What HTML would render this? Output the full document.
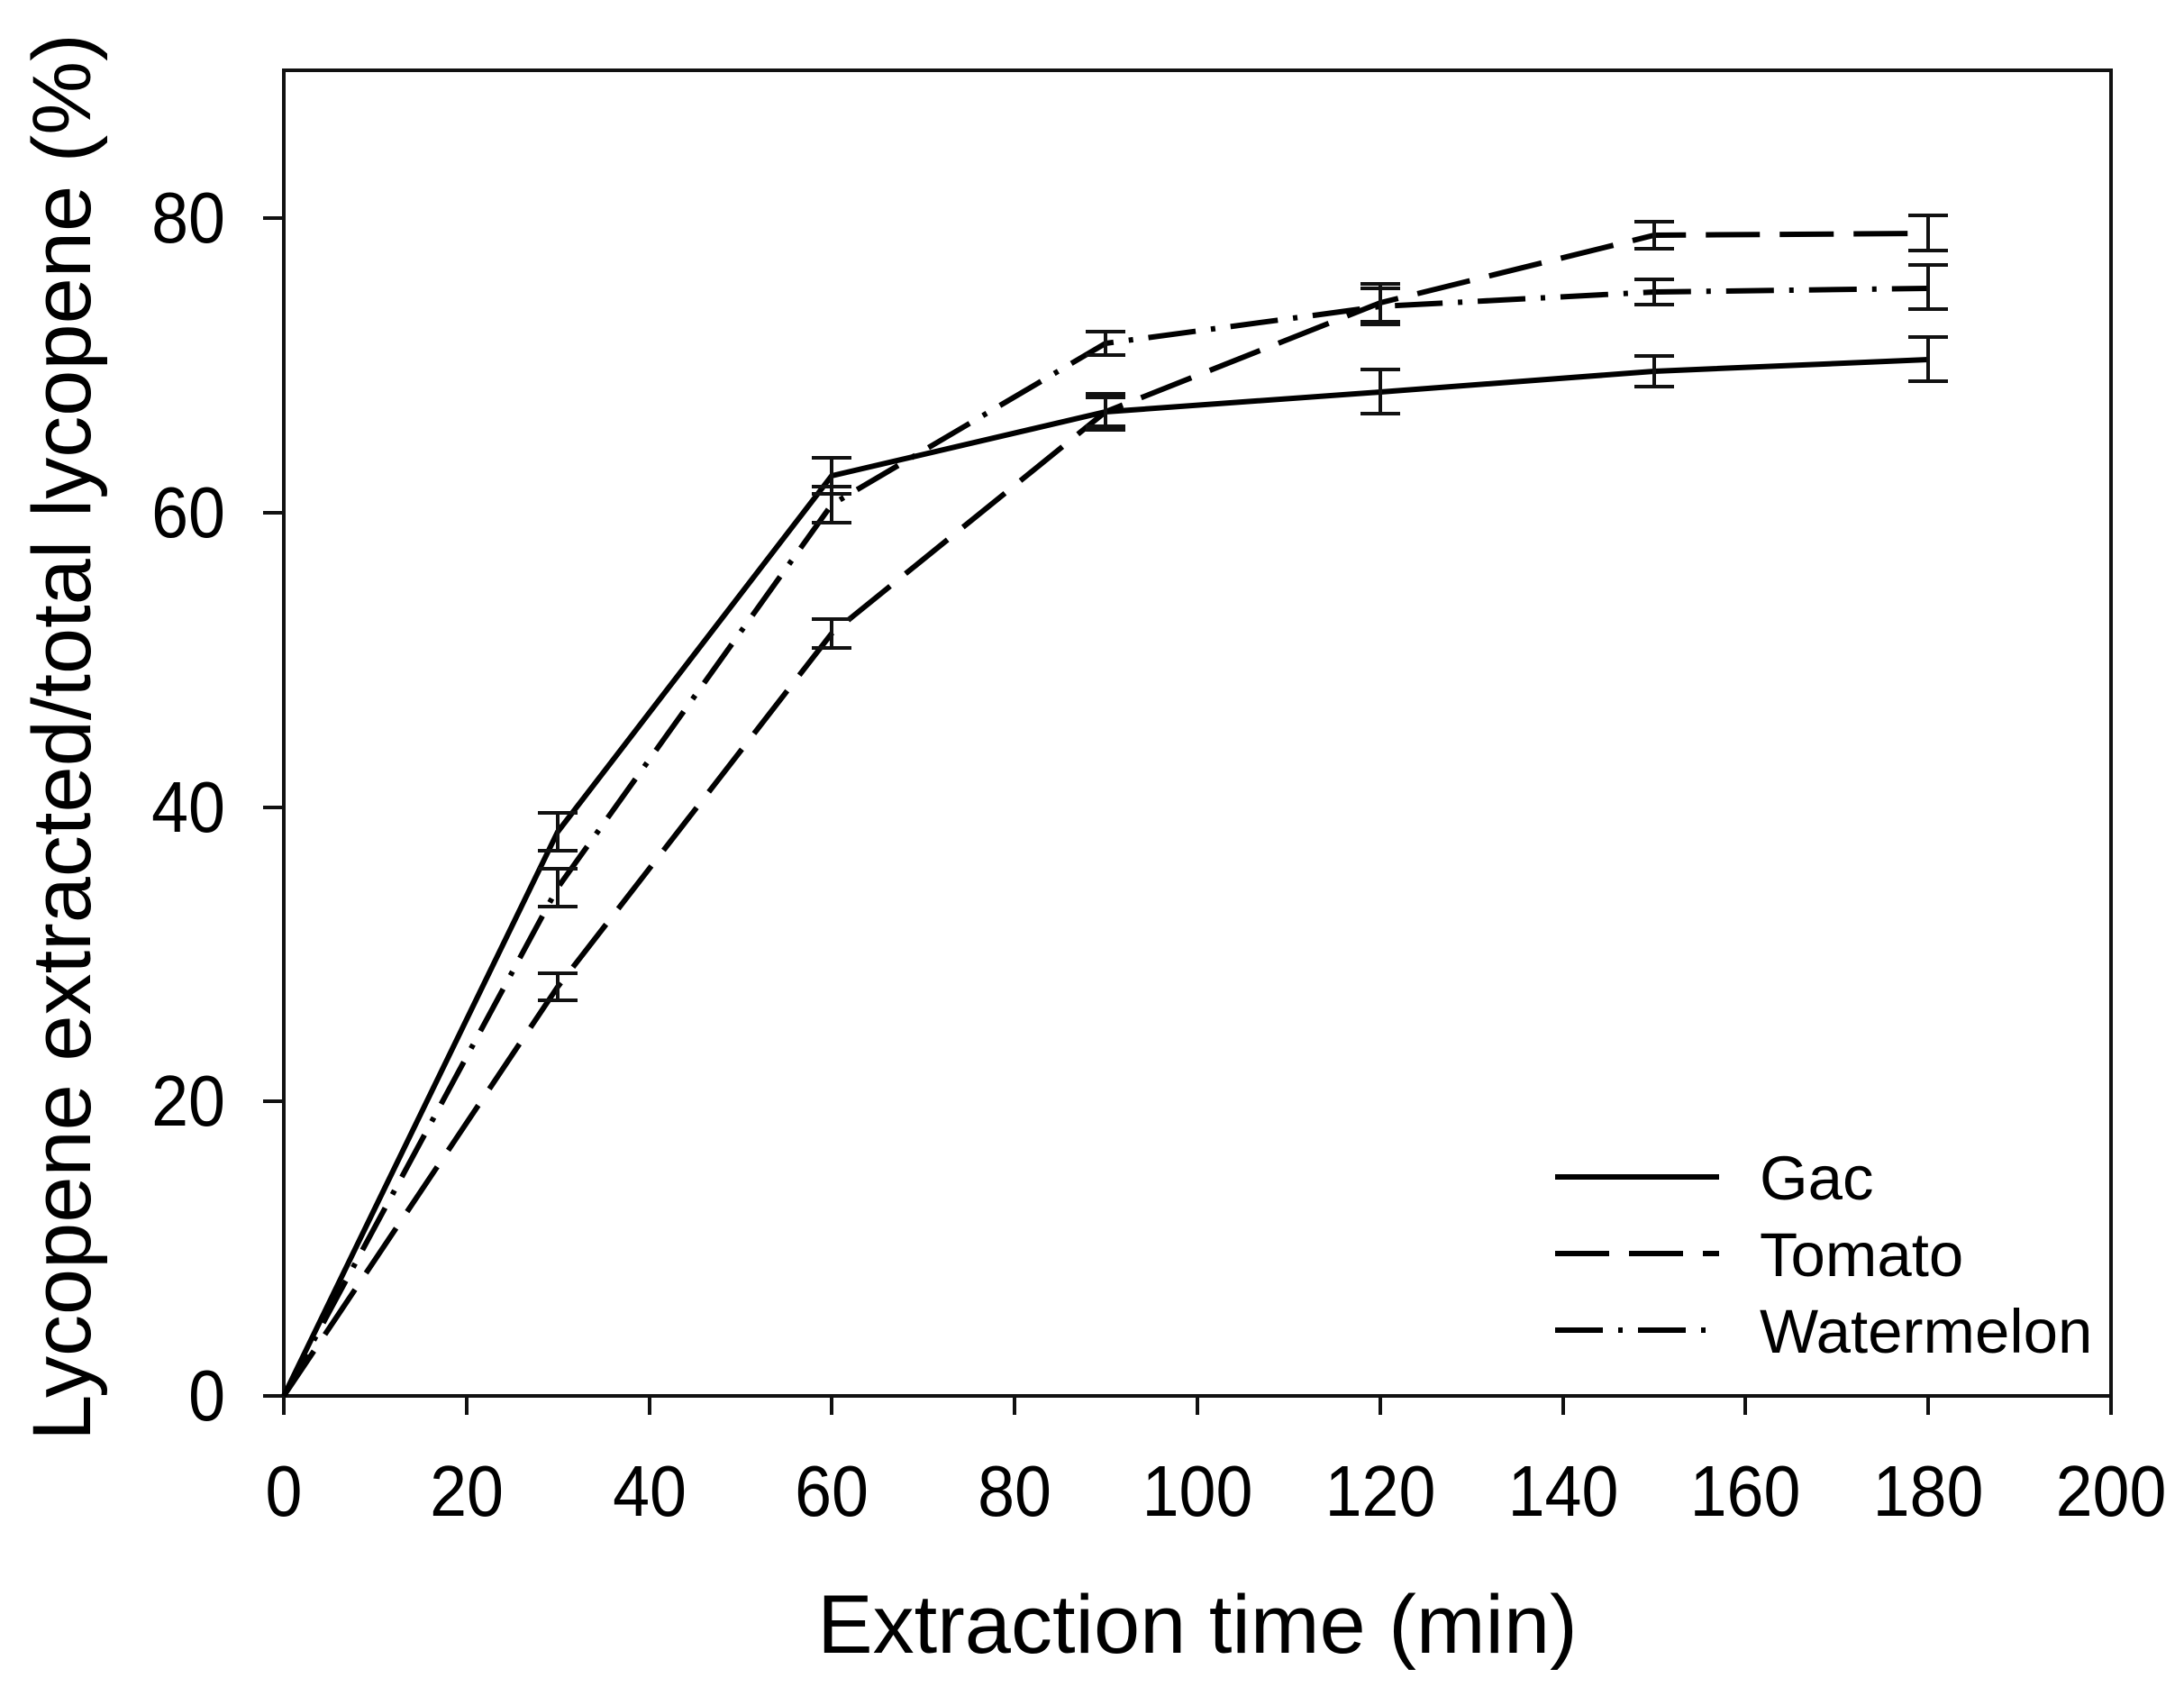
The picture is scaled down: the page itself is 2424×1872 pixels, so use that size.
<!DOCTYPE html>
<html><head><meta charset="utf-8"><style>
html,body{margin:0;padding:0;background:#fff;}
svg{display:block;}
text{font-family:"Liberation Sans",Arial,sans-serif;fill:#000;}
</style></head><body>
<svg width="2424" height="1872" viewBox="0 0 2424 1872" xmlns="http://www.w3.org/2000/svg">
<rect x="315" y="78" width="2028" height="1471" fill="none" stroke="#111" stroke-width="4"/>
<g stroke="#111" stroke-width="4">
<line x1="315" y1="1549" x2="315" y2="1570"/><line x1="518" y1="1549" x2="518" y2="1570"/><line x1="721" y1="1549" x2="721" y2="1570"/><line x1="923" y1="1549" x2="923" y2="1570"/><line x1="1126" y1="1549" x2="1126" y2="1570"/><line x1="1329" y1="1549" x2="1329" y2="1570"/><line x1="1532" y1="1549" x2="1532" y2="1570"/><line x1="1735" y1="1549" x2="1735" y2="1570"/><line x1="1937" y1="1549" x2="1937" y2="1570"/><line x1="2140" y1="1549" x2="2140" y2="1570"/><line x1="2343" y1="1549" x2="2343" y2="1570"/>
<line x1="292" y1="1549" x2="315" y2="1549"/><line x1="292" y1="1222" x2="315" y2="1222"/><line x1="292" y1="896" x2="315" y2="896"/><line x1="292" y1="569" x2="315" y2="569"/><line x1="292" y1="242" x2="315" y2="242"/>
</g>
<g font-size="80" text-anchor="middle">
<text transform="translate(315,1682) scale(0.92,1)">0</text>
<text transform="translate(518,1682) scale(0.92,1)">20</text>
<text transform="translate(721,1682) scale(0.92,1)">40</text>
<text transform="translate(923,1682) scale(0.92,1)">60</text>
<text transform="translate(1126,1682) scale(0.92,1)">80</text>
<text transform="translate(1329,1682) scale(0.92,1)">100</text>
<text transform="translate(1532,1682) scale(0.92,1)">120</text>
<text transform="translate(1735,1682) scale(0.92,1)">140</text>
<text transform="translate(1937,1682) scale(0.92,1)">160</text>
<text transform="translate(2140,1682) scale(0.92,1)">180</text>
<text transform="translate(2343,1682) scale(0.92,1)">200</text>
</g>
<g font-size="80" text-anchor="end">
<text transform="translate(250,1576) scale(0.92,1)">0</text>
<text transform="translate(250,1249) scale(0.92,1)">20</text>
<text transform="translate(250,923) scale(0.92,1)">40</text>
<text transform="translate(250,596) scale(0.92,1)">60</text>
<text transform="translate(250,269) scale(0.92,1)">80</text>
</g>
<text x="1329" y="1834" font-size="92" text-anchor="middle">Extraction time (min)</text>
<text transform="translate(100,818) rotate(-90)" font-size="92" text-anchor="middle">Lycopene extracted/total lycopene (%)</text>
<g fill="none" stroke="#000" stroke-width="6">
<polyline points="315,1549 619,923 923,528 1227,457 1532,435 1836,412 2140,399"/>
<polyline stroke-dasharray="60,22" points="315,1549 619,1095 923,703 1227,457 1532,336 1836,261 2140,259"/>
<polyline stroke-dasharray="53,17,5,17" points="315,1549 619,985 923,560 1227,381 1532,340 1836,324 2140,320"/>
</g>
<g stroke="#111" stroke-width="4" fill="none">
<path d="M619,902V944M597,902H641M597,944H641"/>
<path d="M923,508V548M901,508H945M901,548H945"/>
<path d="M1227,441V473M1205,441H1249M1205,473H1249"/>
<path d="M1532,410V459M1510,410H1554M1510,459H1554"/>
<path d="M1836,395V429M1814,395H1858M1814,429H1858"/>
<path d="M2140,374V423M2118,374H2162M2118,423H2162"/>
<path d="M619,1080V1110M597,1080H641M597,1110H641"/>
<path d="M923,687V719M901,687H945M901,719H945"/>
<path d="M1227,437V477M1205,437H1249M1205,477H1249"/>
<path d="M1532,315V357M1510,315H1554M1510,357H1554"/>
<path d="M1836,246V276M1814,246H1858M1814,276H1858"/>
<path d="M2140,239V278M2118,239H2162M2118,278H2162"/>
<path d="M619,964V1006M597,964H641M597,1006H641"/>
<path d="M923,540V580M901,540H945M901,580H945"/>
<path d="M1227,368V394M1205,368H1249M1205,394H1249"/>
<path d="M1532,320V360M1510,320H1554M1510,360H1554"/>
<path d="M1836,310V338M1814,310H1858M1814,338H1858"/>
<path d="M2140,294V343M2118,294H2162M2118,343H2162"/>
</g>
<g fill="none" stroke="#000" stroke-width="6">
<line x1="1726" y1="1306" x2="1908" y2="1306"/>
<line x1="1726" y1="1391" x2="1908" y2="1391" stroke-dasharray="60,22"/>
<line x1="1726" y1="1476" x2="1908" y2="1476" stroke-dasharray="53,17,5,17"/>
</g>
<g font-size="69">
<text x="1953" y="1331">Gac</text>
<text x="1953" y="1416">Tomato</text>
<text x="1953" y="1501">Watermelon</text>
</g>
</svg>
</body></html>
